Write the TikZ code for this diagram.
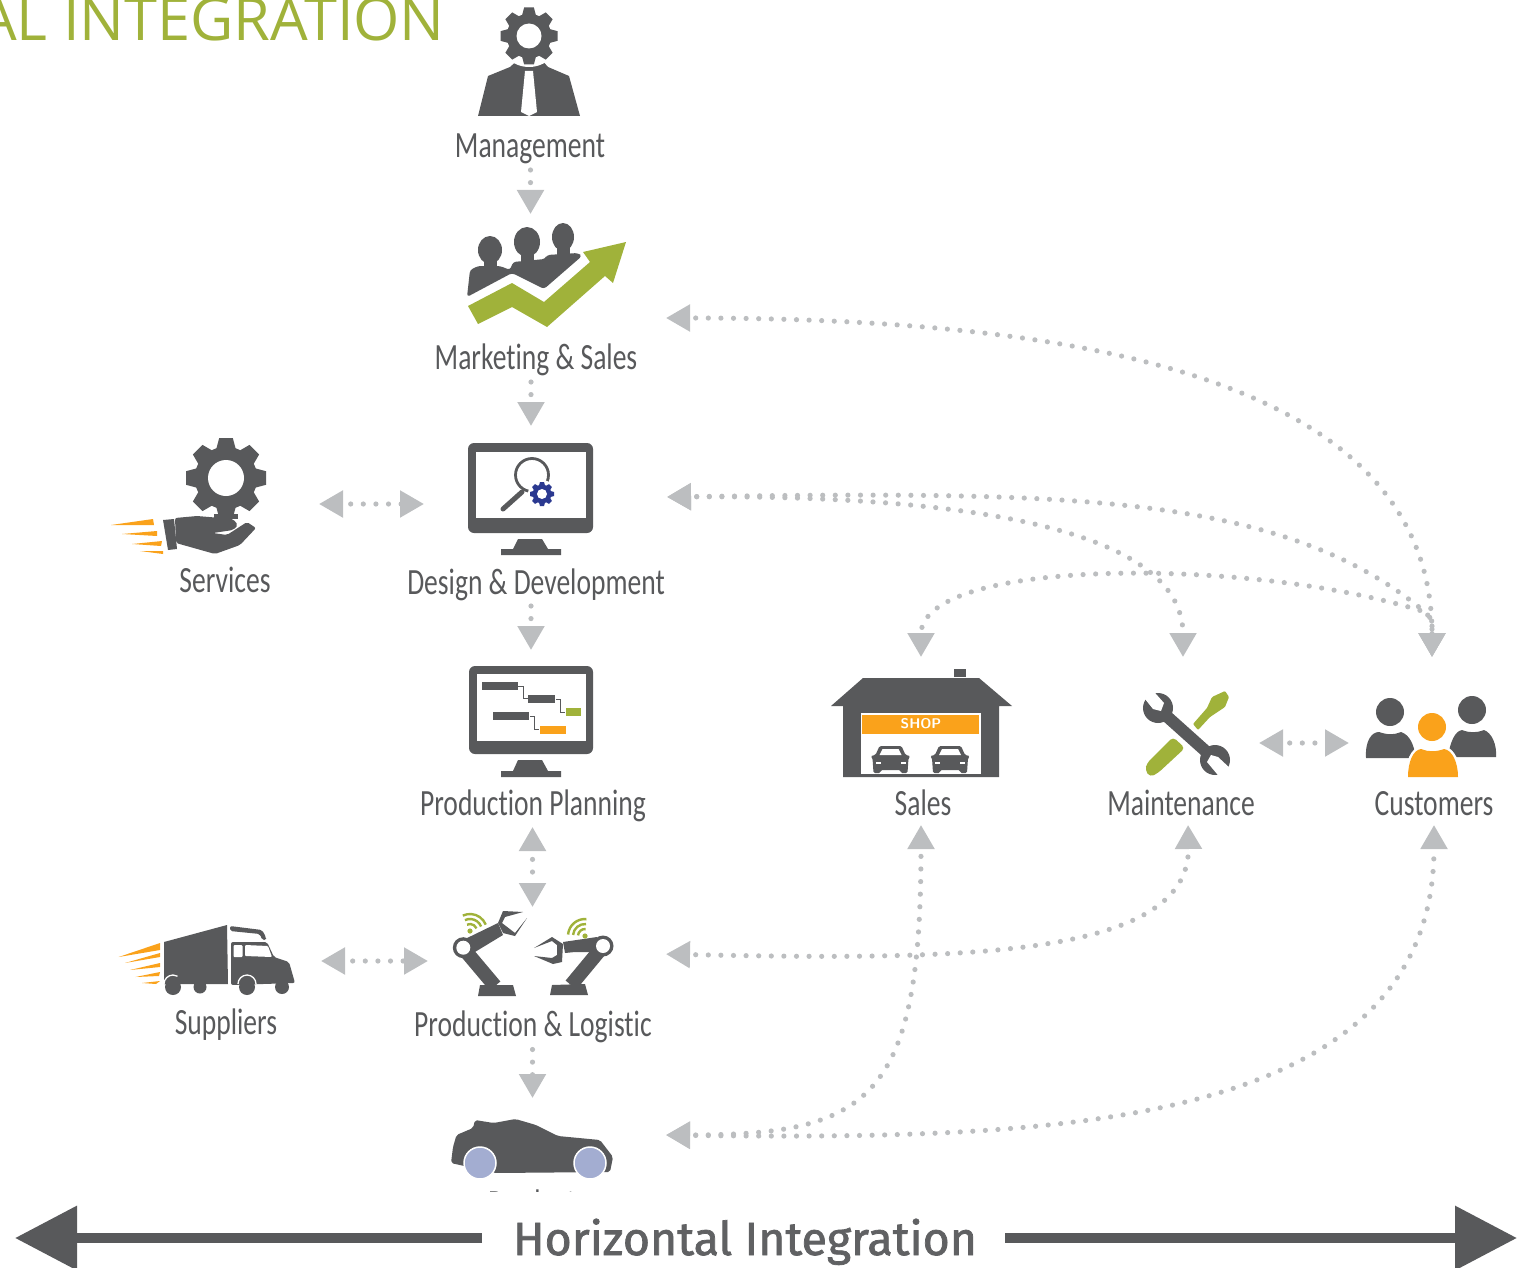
\documentclass[tikz,border=0pt]{standalone}
\usepackage{fontspec}
\usepackage{xcolor}
\usetikzlibrary{arrows.meta}
\newfontfamily\labelfont[FakeStretch=0.745,Ligatures=NoCommon]{Carlito}
\newfontfamily\titlefont{Open Sans}
\newfontfamily\bannerfont[FakeBold=1.6]{Fira Sans}
\definecolor{icongray}{HTML}{58595B}
\definecolor{arrowgray}{HTML}{BCBEC0}
\definecolor{leafgreen}{HTML}{A0B23A}
\definecolor{sunorange}{HTML}{FAA21B}
\definecolor{gearblue}{HTML}{2B3990}
\definecolor{wheelblue}{HTML}{A3ADD1}
% gear: x, y, outer radius, hole radius, colour
\newcommand{\geardraw}[5]{%
  \fill[#5] (#1,#2) circle [radius=#3*0.78];
  \foreach \a in {0,45,...,315}
    \fill[#5,shift={(#1,#2)},rotate=\a] (-#3*0.25,-#3*0.7) -- (-#3*0.17,-#3) -- (#3*0.17,-#3) -- (#3*0.25,-#3*0.7) -- cycle;
  \fill[white] (#1,#2) circle [radius=#4];
}
\begin{document}
\begin{tikzpicture}[x=1pt,y=-1pt,
  >={Triangle[length=24pt,width=26pt,sep=5pt]},
  dotline/.style={color=arrowgray,line width=5.2pt,line cap=round,dash pattern=on 0pt off 12.6pt,dash phase=#1},
  dotline/.default=5.6pt,
  lab/.style={anchor=base,inner sep=0pt,text=icongray,font=\labelfont\fontsize{37}{37}\selectfont},
  dark/.style={fill=icongray},
  hand/.style={fill=sunorange}]
\useasboundingbox (0,0) rectangle (1517,1268);
\node [anchor=base east,inner sep=0pt,text=leafgreen,font=\titlefont\fontsize{59.5}{60}\selectfont] (title) at (445,41) {AL INTEGRATION};
% labels
\node [lab] (mgmt) at (530,158) {Management};
\node [lab] (mkt) at (536,369.5) {Marketing \& Sales};
\node [lab] (serv) at (225,592.5) {Services};
\node [lab] (dsgn) at (536,594.5) {Design \& Development};
\node [lab] (plan) at (533,815.5) {Production Planning};
\node [lab] (sales) at (923,815.5) {Sales};
\node [lab] (maint) at (1181,815.5) {Maintenance};
\node [lab] (cust) at (1434,815.5) {Customers};
\node [lab] (supp) at (226,1034) {Suppliers};
\node [lab] (prod) at (533,1036) {Production \& Logistic};
\node [lab] (car) at (532,1215) {Product};
% ends of the connectors
\coordinate (mgmtout) at (530.5,170);
\coordinate (mktin) at (530.5,219);
\coordinate (mktout) at (531,382);
\coordinate (dsgnin) at (531,431);
\coordinate (dsgnout) at (531,606);
\coordinate (planin) at (531,655);
\coordinate (planout) at (532.5,822);
\coordinate (prodin) at (532.5,912);
\coordinate (prodout) at (532.5,1049.5);
\coordinate (carin) at (532.5,1103);
\coordinate (servr) at (314,504);
\coordinate (dsgnl) at (429,504);
\coordinate (suppr) at (316,961);
\coordinate (prodl) at (433,961);
\coordinate (maintr) at (1254,743);
\coordinate (custl) at (1354,743);
\coordinate (mktr) at (661,318);
\coordinate (dsgnr) at (662,497);
\coordinate (prodr) at (661,954);
\coordinate (carr) at (661,1135);
\coordinate (custtop) at (1432,662);
\coordinate (custmeet) at (1425,612);
\coordinate (custdrop) at (1432,620);
\coordinate (salestop) at (921,662);
\coordinate (mainttop) at (1183,662);
\coordinate (salesbot) at (921,820);
\coordinate (maintbot) at (1188,820);
\coordinate (custbot) at (1434,820);
% connectors
\draw [dotline=0pt,->] (mgmtout) -- (mktin);
\draw [dotline=0pt,->] (mktout) -- (dsgnin);
\draw [dotline=0pt,->] (dsgnout) -- (planin);
\draw [dotline=2.9pt,<->] (planout) -- (prodin);
\draw [dotline=0pt,->] (prodout) -- (carin);
\draw [dotline=3.6pt,<->] (servr) -- (dsgnl);
\draw [dotline=3.6pt,<->] (suppr) -- (prodl);
\draw [dotline=4.6pt,<->] (maintr) -- (custl);
\draw [dotline,<->] (mktr) .. controls (1100,318) and (1432,385) .. (custtop);
\draw [dotline,<->] (dsgnr) .. controls (1050,492) and (1280,490) .. (custmeet) -- (custdrop) -- (custtop);
\draw [dotline,<->] (salestop) .. controls (921,558) and (1250,556) .. (custmeet) -- (custdrop) -- (custtop);
\draw [dotline,<->] (dsgnr) .. controls (950,495) and (1183,525) .. (mainttop);
\draw [dotline,<->] (prodr) .. controls (950,960) and (1190,960) .. (maintbot);
\draw [dotline,<->] (carr) .. controls (870,1135) and (921,1100) .. (salesbot);
\draw [dotline,<->] (carr) .. controls (1050,1140) and (1434,1130) .. (custbot);
% management
\path [dark] (478,116) -- (488,76) -- (510,67) -- (520,58) -- (528,66) -- (540,58) -- (548,67) -- (569,76) -- (580,116) -- cycle;
\fill [white] (529,36) circle [radius=31];
\geardraw{529}{36}{28.5}{12.5}{icongray}
\path [fill=white] (525,71) -- (533,71) -- (537,112) -- (529,116) -- (521,112) -- cycle;
% marketing
\path [dark] (490,250) ellipse [x radius=12,y radius=14];
\path [dark] (527,242) ellipse [x radius=13,y radius=15];
\path [dark] (563,237) ellipse [x radius=11,y radius=14];
\path [dark] (484,258) rectangle (497,270);
\path [dark] (521,250) rectangle (534,264);
\path [dark] (557,245) rectangle (570,258);
\path [dark,rounded corners=3pt] (467,297) -- (470,270) -- (478,266) -- (500,266) -- (510,270) -- (513,262) -- (545,259) -- (547,255) -- (578,253) -- (582,256) -- (544,289) -- (512,273) -- cycle;
\path [fill=leafgreen] (468,306) -- (512,283) -- (544,302) -- (590,262) -- (583,252) -- (626,242) -- (613,283) -- (605,276) -- (547,327) -- (512,307) -- (478,324) -- cycle;
% services
\geardraw{226}{478}{40}{18}{icongray}
\path [fill=white] (175,516) -- (258,516) -- (258,558) -- (175,558) -- cycle;
\path [fill=icongray] (214,514) rectangle (238,519);
\path [dark] (163,520) -- (174,519) -- (177,549) -- (168,550) -- cycle;
\path [dark,rounded corners=2pt] (175,518) -- (197,516) -- (233,519) -- (238,525) -- (233,530) -- (213,533) -- (227,535) -- (247,522) -- (256,528) -- (240,545) -- (215,554) -- (176,543) -- cycle;
\path [hand] (111,525) -- (153,519) -- (154,525) -- cycle;
\path [hand] (122,534) -- (157,531) -- (157,536) -- cycle;
\path [hand] (132,544) -- (162,541) -- (161,546) -- cycle;
\path [hand] (140,551) -- (163,551) -- (163,554) -- cycle;
% design monitor
\path [dark,rounded corners=6pt] (468,443) rectangle (593,533);
\path [fill=white] (476,452) rectangle (586,518);
\path [dark] (518,539) -- (542,539) -- (548,549) -- (561,549) -- (561,555) -- (501,555) -- (501,549) -- (513,549) -- cycle;
\draw [icongray,line width=2.8pt] (532,475) circle [radius=16.5];
\draw [icongray,line width=5pt,line cap=round] (503,509) -- (522,492);
\fill [white] (542,494) circle [radius=14];
\geardraw{542}{494}{12}{5}{gearblue}
% planning monitor
\path [dark,rounded corners=6pt] (469,666) rectangle (593,754);
\path [fill=white] (477,674) rectangle (586,741);
\path [dark] (518,760) -- (542,760) -- (548,771) -- (561,771) -- (561,777) -- (501,777) -- (501,771) -- (513,771) -- cycle;
\path [dark] (482,682) rectangle (518,690);
\path [dark] (528,695) rectangle (555,703);
\path [dark] (493,712) rectangle (529,720);
\path [fill=leafgreen] (566,708) rectangle (581,716);
\path [fill=sunorange] (540,726) rectangle (566,734);
\draw [icongray,line width=1pt] (518,686) -- (523,686) -- (523,698) -- (528,698);
\draw [icongray,line width=1pt] (556,699) -- (560,699) -- (560,712) -- (565,712);
\draw [icongray,line width=1pt] (530,716) -- (534,716) -- (534,729) -- (539,729);
% shop
\path [dark] (831,706) -- (863,678) -- (979,678) -- (1012,706) -- (999,706) -- (999,777) -- (843,777) -- (843,706) -- cycle;
\path [dark] (953.5,669) rectangle (966,677);
\path [fill=white] (860.5,713) rectangle (981,774);
\path [fill=sunorange] (862,715) rectangle (979,734);
\node [inner sep=0pt,text=white,font=\bfseries\fontsize{14}{14}\selectfont\sffamily] (shop) at (921,724) {SHOP};
\foreach \cx in {890.5,950} {
  \path [dark,rounded corners=1.5pt] (\cx-17,773) -- (\cx-18,758) -- (\cx-20,756) -- (\cx-15,755) -- (\cx-11,746) -- (\cx+11,746) -- (\cx+15,755) -- (\cx+20,756) -- (\cx+18,758) -- (\cx+17,773) -- (\cx+10,773) -- (\cx+10,770) -- (\cx-10,770) -- (\cx-10,773) -- cycle;
  \path [fill=white] (\cx-11,755) -- (\cx-8,749) -- (\cx+8,749) -- (\cx+11,755) -- cycle;
  \path [fill=white] (\cx-15,762) rectangle (\cx-10,764);
  \path [fill=white] (\cx+10,762) rectangle (\cx+15,764);
}
% tools
\path [fill=leafgreen,rounded corners=1pt] (1225,691) -- (1229,697) -- (1225,707) -- (1210,717) -- (1198,730) -- (1193,724) -- (1207,708) -- (1212,697) -- cycle;
\path [fill=leafgreen,rounded corners=4pt] (1173,737) -- (1185,748) -- (1158,773) -- (1150,777) -- (1145,770) -- (1147,763) -- cycle;
\draw [white,line width=17pt] (1165,717) -- (1205,752);
\draw [icongray,line width=12pt] (1162,712) -- (1210,755);
\fill [icongray] (1158,708) circle [radius=15];
\fill [icongray] (1215,760) circle [radius=15];
\path [fill=white] (1153,690) -- (1145,699) -- (1153,709) -- (1161,711) -- (1164,703) -- (1156,694) -- cycle;
\path [fill=white] (1232,770) -- (1222,780) -- (1212,768) -- (1207,762) -- (1211,755) -- (1218,757) -- cycle;
% customers
\fill [icongray] (1390,712) circle [radius=14];
\fill [icongray] (1472,710) circle [radius=14];
\path [dark] (1366,758) .. controls (1365,740) and (1372,732) .. (1379,732) .. controls (1388,735) and (1394,735) .. (1401,732) .. controls (1410,735) and (1414,745) .. (1416,758) -- cycle;
\path [dark] (1448,757) .. controls (1450,742) and (1455,731) .. (1462,730) .. controls (1470,733) and (1476,733) .. (1484,730) .. controls (1492,733) and (1497,745) .. (1496,757) -- cycle;
\fill [white] (1432,727) circle [radius=17];
\draw [white,line width=5pt] (1408,777) .. controls (1408,762) and (1413,750) .. (1421,749) .. controls (1428,752) and (1436,752) .. (1444,749) .. controls (1452,750) and (1458,762) .. (1458,777);
\fill [sunorange] (1432,727) circle [radius=14];
\path [fill=sunorange] (1408,777) .. controls (1408,762) and (1413,750) .. (1421,749) .. controls (1428,752) and (1436,752) .. (1444,749) .. controls (1452,750) and (1458,762) .. (1458,777) -- cycle;
% truck
\foreach \wx/\wr in {173/8,200/6.5,247/8,282/7}
  \fill [icongray] (\wx,987) circle [radius=\wr];
\path [dark] (164,942) -- (227,925) -- (228,984) -- (164,984) -- cycle;
\path [dark,rounded corners=2pt] (230,926) -- (262,930) -- (266,937) -- (266,940) -- (262,940) -- (260,934) -- (230,931) -- cycle;
\path [dark,rounded corners=2pt] (231,942) -- (267,942) -- (274,957) -- (289,962) -- (295,983) -- (231,985) -- cycle;
\path [fill=white,rounded corners=1pt] (233.5,945) rectangle (242.5,957);
\path [fill=white,rounded corners=1pt] (245,945) -- (268,946) -- (272,957) -- (245,956) -- cycle;
\path [fill=white] (163,984.5) rectangle (165,986);
\draw [white,line width=1.3pt] (238,984) arc [start angle=180,end angle=360,radius=9];
\draw [white,line width=1.3pt] (164,984) arc [start angle=180,end angle=300,radius=9];
\path [hand] (118.6,957) -- (160,943) -- (160,950) -- cycle;
\path [hand] (125,963) -- (160,953) -- (160,957) -- cycle;
\path [hand] (130,970) -- (160,963) -- (160,967) -- cycle;
\path [hand] (135.5,977) -- (160,972) -- (159,976) -- cycle;
\path [hand] (142,983) -- (160,981) -- (156,984) -- cycle;
% left robot
\path [dark] (480,985) -- (513,985) -- (516,996) -- (478,996) -- cycle;
\draw [icongray,line width=14pt] (463,948) -- (495,986);
\path [dark] (463,940) -- (498,923) -- (503,935) -- (470,955) -- cycle;
\fill [icongray] (463.3,947.7) circle [radius=10.5];
\fill [white] (463.3,947.7) circle [radius=7];
\path [dark] (498,923) -- (503,911) -- (523,912) -- (505,917) -- (502,923) -- (515,933) -- (527,918) -- (515,936) -- (503,933) -- cycle;
\fill [leafgreen] (470,931) circle [radius=2.6];
\foreach \r in {7,12,17}
  \draw [leafgreen,line width=2.4pt] ([shift={(-115:\r)}]470,931) arc [start angle=-115,end angle=-22,radius=\r];
% right robot
\path [dark] (552,985) -- (585,984) -- (588,995) -- (550,995) -- cycle;
\draw [icongray,line width=14pt] (600,950) -- (571,985);
\path [dark] (563,942) -- (597,937) -- (595,952) -- (575,952) -- (565,953) -- cycle;
\fill [icongray] (603,946) circle [radius=10.5];
\fill [white] (603,946) circle [radius=7];
\path [dark] (534,948) -- (552,937) -- (563,944) -- (562,962) -- (553,964) -- (534,956) -- (552,958) -- (557,955) -- (557,945) -- (552,941) -- cycle;
\fill [leafgreen] (585,936) circle [radius=2.6];
\foreach \r in {7,12,17}
  \draw [leafgreen,line width=2.4pt] ([shift={(-175:\r)}]585,936) arc [start angle=-175,end angle=-85,radius=\r];
% product car
\path [dark,rounded corners=2pt] (451,1163) -- (453,1147) -- (456.5,1135) -- (473,1128) -- (475,1120) -- (493.6,1123) -- (515.5,1119) -- (536,1125) -- (558,1136) -- (600,1140) -- (613,1157) -- (610,1172) -- (495,1173) -- cycle;
\fill [wheelblue,draw=white,line width=1.5pt] (480,1163) circle [radius=16];
\fill [wheelblue,draw=white,line width=1.5pt] (590,1163) circle [radius=16];
% band that hides the lower part
\path [fill=white] (0,1192) rectangle (1517,1268);
\node [anchor=base,inner sep=0pt,text=icongray!95,font=\bannerfont\fontsize{46.5}{47}\selectfont] (horiz) at (745,1255) {Horizontal Integration};
\coordinate (hleft) at (15,1238);
\coordinate (hright) at (1517,1238);
\coordinate (hstartl) at (482,1238);
\coordinate (hstartr) at (1005,1238);
\draw [icongray,line width=10pt,-{Triangle[length=62pt,width=62pt]}] (hstartl) -- (hleft);
\draw [icongray,line width=10pt,-{Triangle[length=62pt,width=62pt]}] (hstartr) -- (hright);
\end{tikzpicture}
\end{document}
